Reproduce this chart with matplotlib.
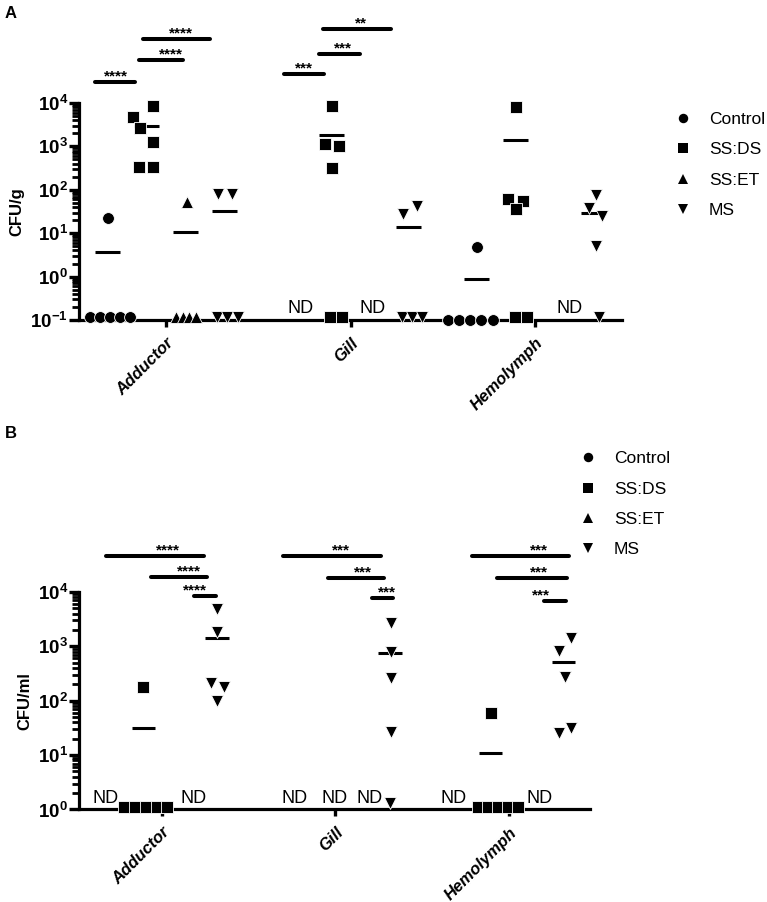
import matplotlib
matplotlib.use("Agg")
import matplotlib.pyplot as plt
import matplotlib.ticker as mticker
from matplotlib.lines import Line2D
import numpy as np

plt.rcParams["font.family"] = "Liberation Sans"
plt.rcParams["mathtext.fontset"] = "custom"
plt.rcParams["mathtext.rm"] = "Liberation Sans"
plt.rcParams["mathtext.bf"] = "Liberation Sans:bold"

CATEGORIES = ["Adductor", "Gill", "Hemolymph"]
GROUPS = ["Control", "SS:DS", "SS:ET", "MS"]
MARKERS = ["o", "s", "^", "v"]
MSIZES = [8.5, 9, 9, 9]

# panel A, CFU/g -- one list per tissue, None = ND; floor values sit at the detection limit
A_CONTROL = [[22, 0.115, 0.115, 0.115, 0.115, 0.115], None,
             [4.8, 0.102, 0.102, 0.102, 0.102, 0.102]]
A_SS_DS = [[8500, 4800, 2650, 1260, 340, 340],
           [8400, 1140, 1030, 315, 0.115, 0.115],
           [8100, 61, 55, 36, 0.115, 0.115]]
A_SS_ET = [[52, 0.115, 0.115, 0.115, 0.115], None, None]
A_MS = [[80, 82, 0.115, 0.115, 0.115],
        [27, 43, 0.115, 0.115, 0.115],
        [76, 38, 25, 5, 0.115]]

# panel B, CFU/ml
B_CONTROL = [None, None, None]
B_SS_DS = [[180, 1.12, 1.12, 1.12, 1.12, 1.12], None,
           [60, 1.12, 1.12, 1.12, 1.12, 1.12]]
B_SS_ET = [None, None, None]
B_MS = [[4900, 1850, 213, 180, 100],
        [2700, 790, 263, 27, 1.3],
        [1440, 830, 275, 26, 31]]

# significance: (from, to, log10 height, stars, star x)
A_SIG = [(-0.385, -0.168, 4.48, "****", -0.271),
         (-0.146, 0.092, 4.99, "****", 0.027),
         (-0.125, 0.238, 5.47, "****", 0.081),
         (0.642, 0.856, 4.67, "***", 0.748),
         (0.830, 1.054, 5.13, "***", 0.959),
         (0.850, 1.220, 5.70, "**", 1.057)]
B_SIG = [(-0.323, 0.242, 4.66, "****", 0.035),
         (-0.063, 0.259, 4.28, "****", 0.156),
         (0.184, 0.311, 3.93, "****", 0.190),
         (0.697, 1.262, 4.66, "***", 1.035),
         (0.957, 1.280, 4.26, "***", 1.158),
         (1.210, 1.330, 3.89, "***", 1.297),
         (1.787, 2.346, 4.66, "***", 2.173),
         (1.931, 2.334, 4.26, "***", 2.173),
         (2.200, 2.330, 3.83, "***", 2.184)]

GROUP_OFF = [-0.316, -0.105, 0.105, 0.316]

# horizontal spread of overlapping points, in pixels, keyed (tissue, group)
A_JIT = {(0, 0): [0, -18, -8, 2, 12, 22], (0, 1): [6.5, -13.5, -6.5, 6.5, -7.5, 6.5],
         (0, 2): [1.5, -9.5, -2.5, 3.5, 10.5], (0, 3): [-6.5, 7.5, -7.5, 2.5, 13.5],
         (1, 1): [0.5, -6.5, 7.5, 0.5, -1.5, 10.5], (1, 3): [-6, 8, -7, 3, 13],
         (2, 0): [0, -29, -18, -7, 4, 16], (2, 1): [0.5, -7.5, 7.5, 0.5, -0.5, 11.5],
         (2, 3): [2.5, -4.5, 8.5, 2.5, 5.5]}
B_JIT = {(0, 1): [-1, -20, -9, 2, 13, 23], (0, 3): [0, 0, -6, 7, 0],
         (1, 3): [1, 1, 1, 1, 0], (2, 1): [0, -13, -3, 7, 17, 27],
         (2, 3): [7, -5, 1, -5, 7]}
A_ND = {(1, 0): 8, (1, 2): 2.5, (2, 2): 15.5}
B_ND = {(0, 0): -2, (0, 2): 13, (1, 0): 14, (1, 1): 17, (1, 2): 16, (2, 0): 0, (2, 2): 13}


def log_fmt(v, _):
    return r"$\mathbf{10^{%d}}$" % int(round(np.log10(v)))


def draw_panel(ax, series, jit, nd, sig, spacing, ylim, xlim, ylabel):
    for gi, data in enumerate(series):
        for ci, vals in enumerate(data):
            if vals is None:
                continue
            center = ci + GROUP_OFF[gi]
            dx = np.array(jit.get((ci, gi), [0] * len(vals))) / spacing
            # thin white edge keeps touching markers apart, like the original
            ax.plot(center + dx, vals, ls="none", marker=MARKERS[gi], ms=MSIZES[gi],
                    color="black", mec="white", mew=0.6, clip_on=False, zorder=4)
            ax.hlines(np.mean(vals), center - 0.068, center + 0.068, color="black",
                      lw=2.2, zorder=3)

    for (ci, gi), off in nd.items():
        ax.annotate("ND", xy=(ci + GROUP_OFF[gi] + off / spacing, ylim[0]),
                    xytext=(0, 2), textcoords="offset points", ha="center",
                    va="bottom", fontsize=13)

    for x0, x1, ly, stars, tx in sig:
        ax.plot([x0, x1], [10 ** ly, 10 ** ly], color="black", lw=2.9,
                solid_capstyle="round", clip_on=False)
        ax.annotate(stars, xy=(tx, 10 ** ly), xytext=(0, 1), textcoords="offset points",
                    ha="center", va="baseline", fontsize=11, fontweight="bold",
                    annotation_clip=False)

    ax.set_yscale("log")
    ax.set_ylim(*ylim)
    ax.set_xlim(*xlim)
    lo, hi = int(np.log10(ylim[0])), int(np.log10(ylim[1]))
    ax.yaxis.set_major_locator(mticker.FixedLocator([10.0 ** d for d in range(lo, hi + 1)]))
    ax.yaxis.set_minor_locator(mticker.FixedLocator(
        [m * 10.0 ** d for d in range(lo, hi) for m in range(2, 10)]))
    ax.yaxis.set_minor_formatter(mticker.NullFormatter())
    ax.yaxis.set_major_formatter(mticker.FuncFormatter(log_fmt))
    ax.tick_params(axis="y", which="major", direction="out", length=7, width=2.4,
                   pad=1, labelsize=13.5)
    ax.tick_params(axis="y", which="minor", direction="out", length=5, width=2.0)
    ax.set_xticks(range(len(CATEGORIES)))
    ax.set_xticklabels(CATEGORIES, rotation=45, ha="right", va="top",
                       rotation_mode="anchor", fontsize=12, fontweight="bold",
                       fontstyle="italic")
    ax.tick_params(axis="x", which="major", length=5, width=2.4, pad=6)
    ax.tick_params(axis="x", which="minor", length=0)
    ax.spines[["top", "right"]].set_visible(False)
    ax.spines[["left", "bottom"]].set_linewidth(2.3)
    ax.set_ylabel(ylabel, fontsize=12, fontweight="bold", labelpad=4)


fig = plt.figure(figsize=(7.67, 9.02), dpi=100)
ax_a = fig.add_axes([0.103, 0.6452, 0.708, 0.2406])
ax_b = fig.add_axes([0.103, 0.1026, 0.666, 0.2411])

draw_panel(ax_a, [A_CONTROL, A_SS_DS, A_SS_ET, A_MS], A_JIT, A_ND, A_SIG, 184.5,
           (0.1, 1e4), (-0.4715, 2.4715), "CFU/g")
draw_panel(ax_b, [B_CONTROL, B_SS_DS, B_SS_ET, B_MS], B_JIT, B_ND, B_SIG, 173.5,
           (1, 1e4), (-0.478, 2.467), "CFU/ml")

handles = [Line2D([], [], ls="none", marker=m, ms=s * 0.8, mew=0, color="black")
           for m, s in zip(MARKERS, MSIZES)]
for anchor in [(0.879, 0.876), (0.755, 0.500)]:
    fig.legend(handles, GROUPS, loc="upper left", bbox_to_anchor=anchor,
               bbox_transform=fig.transFigure, frameon=False, fontsize=12.5,
               handlelength=1.0, handletextpad=1.0, labelspacing=0.88, borderpad=0,
               borderaxespad=0)

fig.text(0.006, 0.993, "A", fontsize=12, fontweight="bold", va="top")
fig.text(0.006, 0.528, "B", fontsize=12, fontweight="bold", va="top")

fig.savefig("out.png", dpi=100)
